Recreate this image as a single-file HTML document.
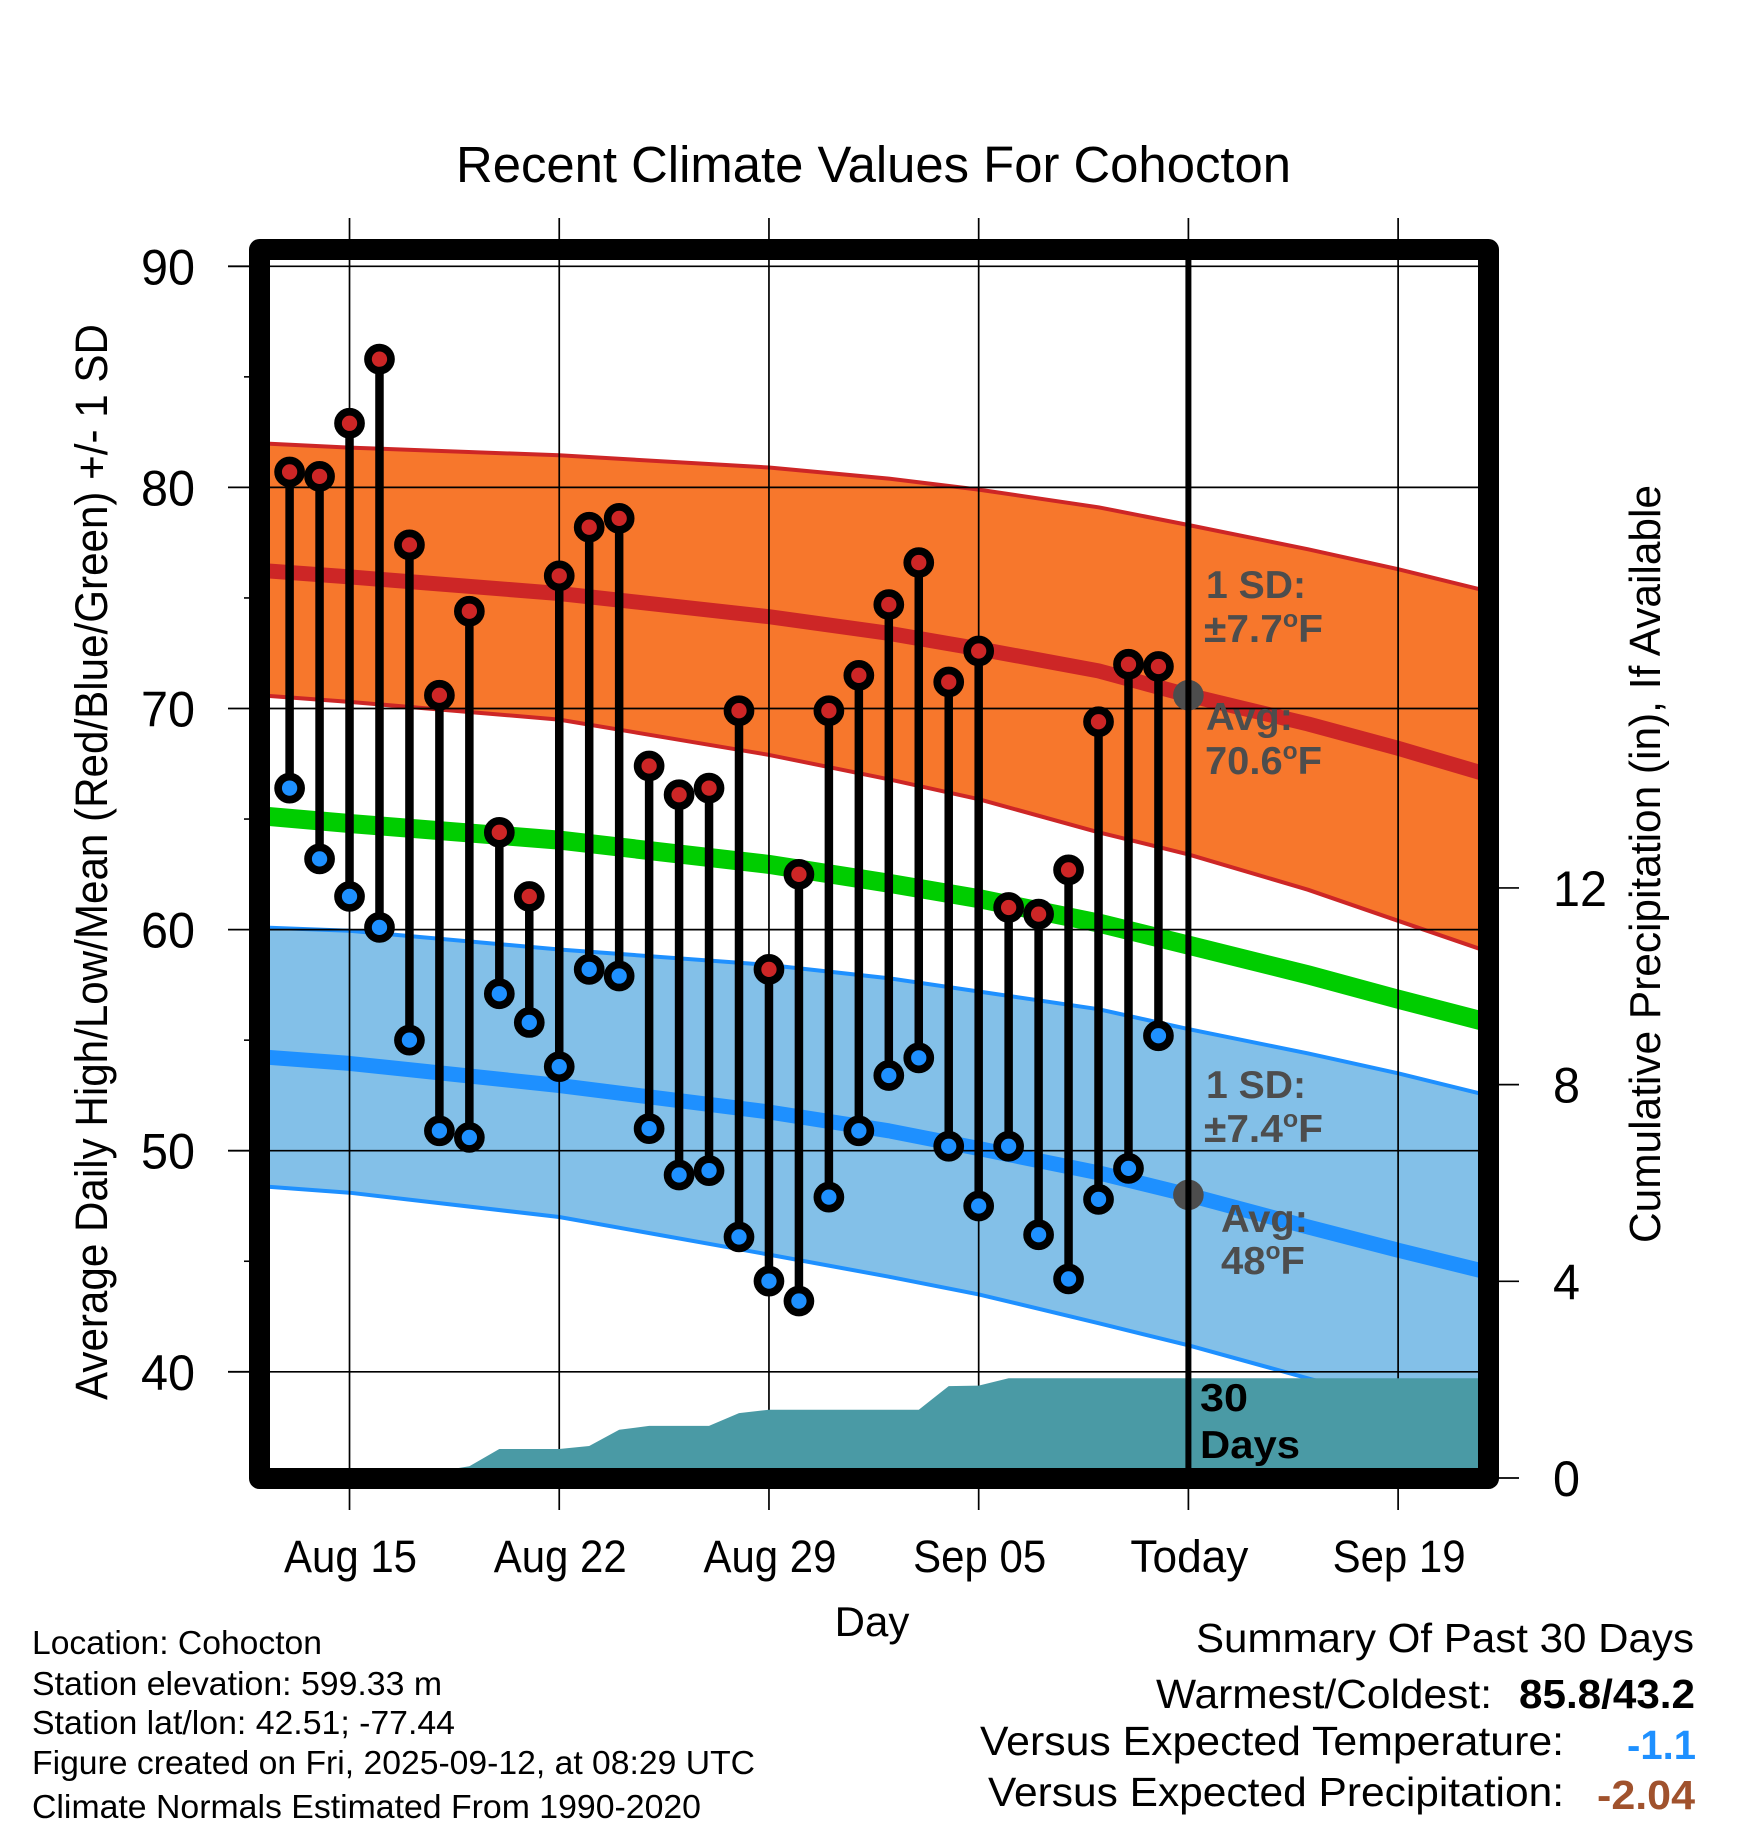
<!DOCTYPE html>
<html lang="en">
<head>
<meta charset="utf-8">
<title>Recent Climate Values For Cohocton</title>
<style>
html,body{margin:0;padding:0;background:#fff;}
svg{display:block;}
text{font-family:"Liberation Sans",Arial,sans-serif;fill:#000;}
.ann{font-weight:bold;fill:#4d4d4d;font-size:39px;}
.note{font-size:33px;}
.sum{font-size:41px;}
</style>
</head>
<body>
<svg id="chart" xmlns="http://www.w3.org/2000/svg" width="1748" height="1828" viewBox="0 0 1748 1828">
  <rect x="0" y="0" width="1748" height="1828" fill="#ffffff"/>
  <g id="bands"></g>
  <g id="means"></g>
  <g id="grid"></g>
  <g id="precip"></g>
  <g id="today"></g>
  <g id="stems"></g>
  <g id="dots"></g>

  <text class="ann" x="1206" y="598" textLength="100" lengthAdjust="spacingAndGlyphs">1 SD:</text>
  <text class="ann" x="1204" y="642" textLength="119" lengthAdjust="spacingAndGlyphs">±7.7<tspan font-size="24" dy="-15">o</tspan><tspan dy="15">F</tspan></text>
  <text class="ann" x="1206" y="730" textLength="87" lengthAdjust="spacingAndGlyphs">Avg:</text>
  <text class="ann" x="1205" y="774" textLength="117" lengthAdjust="spacingAndGlyphs">70.6<tspan font-size="24" dy="-15">o</tspan><tspan dy="15">F</tspan></text>
  <text class="ann" x="1206" y="1098" textLength="100" lengthAdjust="spacingAndGlyphs">1 SD:</text>
  <text class="ann" x="1204" y="1142" textLength="119" lengthAdjust="spacingAndGlyphs">±7.4<tspan font-size="24" dy="-15">o</tspan><tspan dy="15">F</tspan></text>
  <text class="ann" x="1221" y="1232" textLength="87" lengthAdjust="spacingAndGlyphs">Avg:</text>
  <text class="ann" x="1221" y="1274" textLength="84" lengthAdjust="spacingAndGlyphs">48<tspan font-size="24" dy="-15">o</tspan><tspan dy="15">F</tspan></text>
  <text x="1200" y="1411" font-size="39" font-weight="bold" textLength="48" lengthAdjust="spacingAndGlyphs">30</text>
  <text x="1200" y="1458" font-size="39" font-weight="bold" textLength="100" lengthAdjust="spacingAndGlyphs">Days</text>

  <rect x="259.5" y="249.5" width="1229" height="1229" fill="none" stroke="#000" stroke-width="21" stroke-linejoin="round"/>
  <g id="ticks"></g>

  <text x="456" y="182" font-size="51" textLength="835" lengthAdjust="spacingAndGlyphs">Recent Climate Values For Cohocton</text>
  <text transform="translate(107,862) rotate(-90)" text-anchor="middle" font-size="45" textLength="1076" lengthAdjust="spacingAndGlyphs">Average Daily High/Low/Mean (Red/Blue/Green) +/- 1 SD</text>
  <text transform="translate(1660,864) rotate(-90)" text-anchor="middle" font-size="44" textLength="758" lengthAdjust="spacingAndGlyphs">Cumulative Precipitation (in), If Available</text>
  <text x="872" y="1636" text-anchor="middle" font-size="42">Day</text>

  <text class="note" x="32" y="1654" textLength="290" lengthAdjust="spacingAndGlyphs">Location: Cohocton</text>
  <text class="note" x="32" y="1695" textLength="410" lengthAdjust="spacingAndGlyphs">Station elevation: 599.33 m</text>
  <text class="note" x="32" y="1734" textLength="423" lengthAdjust="spacingAndGlyphs">Station lat/lon: 42.51; -77.44</text>
  <text class="note" x="32" y="1774" textLength="723" lengthAdjust="spacingAndGlyphs">Figure created on Fri, 2025-09-12, at 08:29 UTC</text>
  <text class="note" x="32" y="1818" textLength="669" lengthAdjust="spacingAndGlyphs">Climate Normals Estimated From 1990-2020</text>

  <text class="sum" x="1196" y="1652" textLength="498" lengthAdjust="spacingAndGlyphs">Summary Of Past 30 Days</text>
  <text class="sum" x="1156" y="1708" textLength="336" lengthAdjust="spacingAndGlyphs">Warmest/Coldest:</text>
  <text class="sum" x="1519" y="1708" font-weight="bold" textLength="176" lengthAdjust="spacingAndGlyphs">85.8/43.2</text>
  <text class="sum" x="980" y="1755" textLength="584" lengthAdjust="spacingAndGlyphs">Versus Expected Temperature:</text>
  <text class="sum" x="1627" y="1759" font-weight="bold" style="fill:#1e90ff" textLength="69" lengthAdjust="spacingAndGlyphs">-1.1</text>
  <text class="sum" x="988" y="1806" textLength="576" lengthAdjust="spacingAndGlyphs">Versus Expected Precipitation:</text>
  <text class="sum" x="1597" y="1809" font-weight="bold" style="fill:#a0522d" textLength="98" lengthAdjust="spacingAndGlyphs">-2.04</text>
</svg>
<script>
// Observed daily values, Aug 13 through Sep 11
const highs = [80.7,80.5,82.9,85.8,77.4,70.6,74.4,64.4,61.5,76.0,78.2,78.6,67.4,66.1,66.4,69.9,58.2,62.5,69.9,71.5,74.7,76.6,71.2,72.6,61.0,60.7,62.7,69.4,72.0,71.9];
const lows = [66.4,63.2,61.5,60.1,55.0,50.9,50.6,57.1,55.8,53.8,58.2,57.9,51.0,48.9,49.1,46.1,44.1,43.2,47.9,50.9,53.4,54.2,50.2,47.5,50.2,46.2,44.2,47.8,49.2,55.2];
const precipitation = [0,0,0,0,0,0.14,0.24,0.59,0.59,0.59,0.65,0.98,1.06,1.06,1.06,1.32,1.39,1.39,1.39,1.39,1.39,1.39,1.87,1.88,2.03,2.03,2.03,2.03,2.03,2.03];

// Climate normals, sampled by day offset from Aug 13
const normalDays = [-1,2,9,16,20,23,27,30,34,37,40];
const highUpper = [82.0,81.8,81.45,80.9,80.4,79.9,79.1,78.3,77.2,76.3,75.3];
const highMean = [76.25,75.95,75.2,74.15,73.4,72.7,71.7,70.6,69.3,68.2,67.0];
const highLower = [70.6,70.3,69.5,67.9,66.8,65.9,64.4,63.4,61.8,60.4,59.0];
const overallMean = [65.15,64.8,64.05,62.95,62.1,61.4,60.3,59.3,57.95,56.85,55.8];
const lowUpper = [60.1,59.95,59.1,58.4,57.8,57.2,56.4,55.5,54.4,53.5,52.5];
const lowMean = [54.25,53.95,52.95,51.75,50.9,50.1,49.0,48.0,46.55,45.5,44.5];
const lowLower = [48.4,48.1,47.0,45.3,44.3,43.5,42.2,41.2,39.7,38.6,37.5];

// Axis ticks
const xTickDays = [2,9,16,23,30,37];
const xTickLabels = ["Aug 15","Aug 22","Aug 29","Sep 05","Today","Sep 19"];
const yMajorTicks = [90,80,70,60,50,40];
const yMinorTicks = [85,75,65,55,45];
const precipTicks = [12,8,4,0];
const todayDay = 30;
const lastDay = 40;
const todayHighNormal = 70.6;
const todayLowNormal = 48.0;

// Axis functions
function xScale(day){ return 289.6 + 29.96 * day; }
function yScale(temp){ return 266.3 + (90 - temp) * 22.11; }
function pScale(inches){ return 1478 - inches * 49.17; }

const NS = "http://www.w3.org/2000/svg";
function make(parentId, tag, attrs){
  const node = document.createElementNS(NS, tag);
  for (const k in attrs) node.setAttribute(k, attrs[k]);
  document.getElementById(parentId).appendChild(node);
  return node;
}
function pts(upper){
  return normalDays.map(function(d,i){ return xScale(d).toFixed(1) + "," + yScale(upper[i]).toFixed(1); });
}
function bandPoints(upper, lower){
  return pts(upper).concat(pts(lower).reverse()).join(" ");
}

let el;
// Bands
el = make("bands","polygon",{points:bandPoints(highUpper,highLower),fill:"#f7772c"});


el = make("bands","polygon",{points:bandPoints(lowUpper,lowLower),fill:"#83c0e8"});


el = make("bands","polyline",{points:pts(highUpper).join(" "),fill:"none",stroke:"#cd2626","stroke-width":4,"stroke-linejoin":"round"});


el = make("bands","polyline",{points:pts(highLower).join(" "),fill:"none",stroke:"#cd2626","stroke-width":4,"stroke-linejoin":"round"});


el = make("bands","polyline",{points:pts(lowUpper).join(" "),fill:"none",stroke:"#1e90ff","stroke-width":4,"stroke-linejoin":"round"});


el = make("bands","polyline",{points:pts(lowLower).join(" "),fill:"none",stroke:"#1e90ff","stroke-width":4,"stroke-linejoin":"round"});



// Mean lines
el = make("means","polyline",{points:pts(overallMean).join(" "),fill:"none",stroke:"#00cd00","stroke-width":19,"stroke-linejoin":"round"});


el = make("means","polyline",{points:pts(highMean).join(" "),fill:"none",stroke:"#cd2626","stroke-width":15,"stroke-linejoin":"round"});


el = make("means","polyline",{points:pts(lowMean).join(" "),fill:"none",stroke:"#1e90ff","stroke-width":15,"stroke-linejoin":"round"});



// Grid and ticks
yMajorTicks.forEach(function(t){
  const y = yScale(t);
  let g = make("grid","line",{x1:270,x2:1478,y1:y,y2:y,stroke:"#000","stroke-width":1.7});
  
  
  let m = make("ticks","line",{x1:228,x2:249,y1:y,y2:y,stroke:"#000","stroke-width":1.8});
  
  
  let l = make("ticks","text",{x:195,y:y+18,"text-anchor":"end","font-size":50,textLength:54,lengthAdjust:"spacingAndGlyphs"});
  l.textContent = String(t);
  
  
});
yMinorTicks.forEach(function(t){
  const y = yScale(t);
  let m = make("ticks","line",{x1:244,x2:249,y1:y,y2:y,stroke:"#000","stroke-width":1.6});
  
  
});
xTickDays.forEach(function(d,i){
  const x = xScale(d);
  let g = make("grid","line",{x1:x,x2:x,y1:260,y2:1468,stroke:"#000","stroke-width":1.7});
  
  
  let top = make("ticks","line",{x1:x,x2:x,y1:218,y2:239,stroke:"#000","stroke-width":1.7});
  
  
  let bot = make("ticks","line",{x1:x,x2:x,y1:1489,y2:1510,stroke:"#000","stroke-width":1.7});
  
  
  let l = make("ticks","text",{x:x+1,y:1572,"text-anchor":"middle","font-size":45,textLength:xTickLabels[i]==="Today"?118:133,lengthAdjust:"spacingAndGlyphs"});
  l.textContent = xTickLabels[i];
  
  
});
precipTicks.forEach(function(p){
  const y = pScale(p);
  let m = make("ticks","line",{x1:1499,x2:1519,y1:y,y2:y,stroke:"#000","stroke-width":1.7});
  
  
  let l = make("ticks","text",{x:1553,y:y+18,"font-size":50,textLength:p>=10?54:27,lengthAdjust:"spacingAndGlyphs"});
  l.textContent = String(p);
  
  
});

// Cumulative precipitation area
const precipPoints = [xScale(0).toFixed(1)+","+pScale(0)];
precipitation.forEach(function(p,i){
  precipPoints.push(xScale(i).toFixed(1)+","+pScale(p).toFixed(1));
});
precipPoints.push(xScale(lastDay).toFixed(1)+","+pScale(precipitation[precipitation.length-1]).toFixed(1));
precipPoints.push(xScale(lastDay).toFixed(1)+","+pScale(0));
el = make("precip","polygon",{points:precipPoints.join(" "),fill:"#4a9aa5"});



// Normal markers and today line
el = make("today","circle",{cx:xScale(todayDay),cy:yScale(todayHighNormal),r:15.3,fill:"#4d4d4d"});


el = make("today","circle",{cx:xScale(todayDay),cy:yScale(todayLowNormal),r:15.3,fill:"#4d4d4d"});


el = make("today","line",{x1:xScale(todayDay),x2:xScale(todayDay),y1:255,y2:1472,stroke:"#000","stroke-width":6});



// Daily stems and points
highs.forEach(function(h,i){
  const x = xScale(i);
  const stem = make("stems","line",{x1:x,x2:x,y1:yScale(h),y2:yScale(lows[i]),stroke:"#000","stroke-width":8.5});
  
  
  const hi = make("dots","circle",{cx:x,cy:yScale(h),r:11.5,fill:"#cd2626",stroke:"#000","stroke-width":7.7});
  
  
  const lo = make("dots","circle",{cx:x,cy:yScale(lows[i]),r:11.5,fill:"#1e90ff",stroke:"#000","stroke-width":7.7});
  
  
});
</script>
</body>
</html>
